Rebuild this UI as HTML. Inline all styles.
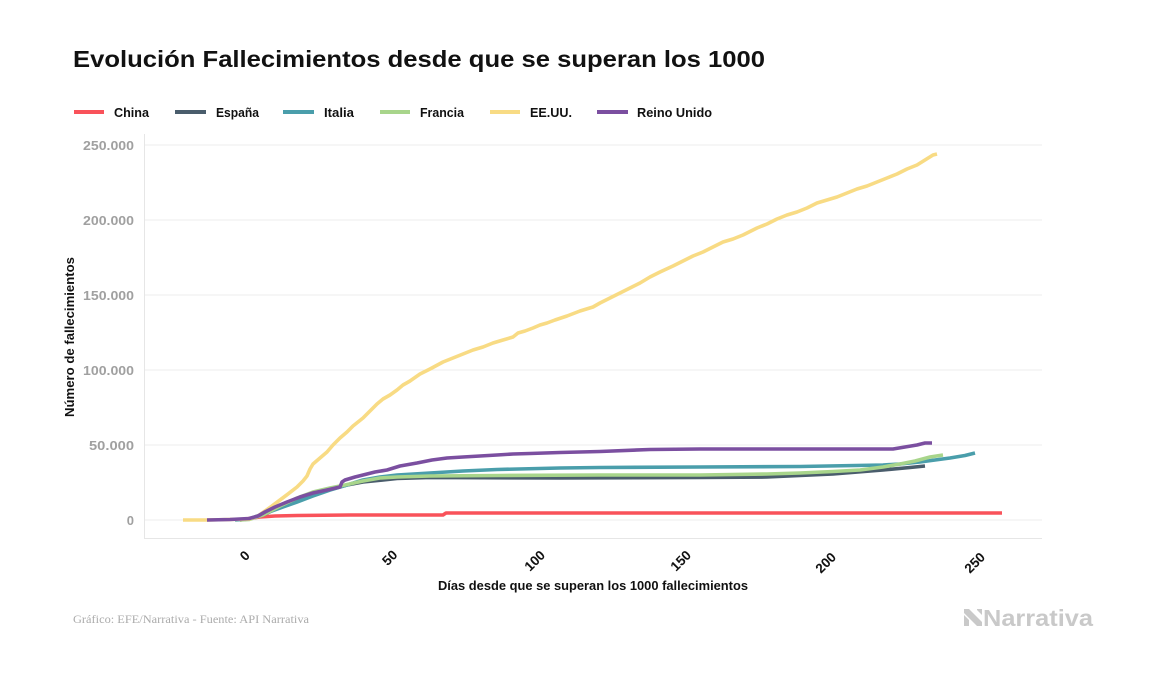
<!DOCTYPE html>
<html>
<head>
<meta charset="utf-8">
<style>
  html, body { margin: 0; padding: 0; background: #ffffff; }
  svg { display: block; }
  text { font-family: "Liberation Sans", "DejaVu Sans", sans-serif; }
</style>
</head>
<body>
<svg width="1157" height="674" viewBox="0 0 1157 674" xmlns="http://www.w3.org/2000/svg">
  <rect x="0" y="0" width="1157" height="674" fill="#ffffff"/>

  <!-- Title -->
  <text x="73" y="67" font-size="23" font-weight="bold" fill="#111111" textLength="692" lengthAdjust="spacingAndGlyphs">Evolución Fallecimientos desde que se superan los 1000</text>

  <!-- Legend -->
  <g stroke-width="4" stroke-linecap="butt">
    <line x1="74" y1="112" x2="104" y2="112" stroke="#f9525a"/>
    <line x1="175" y1="112" x2="206" y2="112" stroke="#4a5d6c"/>
    <line x1="283" y1="112" x2="314" y2="112" stroke="#4a9eab"/>
    <line x1="380" y1="112" x2="410" y2="112" stroke="#a8d58b"/>
    <line x1="490" y1="112" x2="520" y2="112" stroke="#f8db84"/>
    <line x1="597" y1="112" x2="628" y2="112" stroke="#7b4fa0"/>
  </g>
  <g font-size="13" font-weight="bold" fill="#111111">
    <text x="114" y="117" textLength="35" lengthAdjust="spacingAndGlyphs">China</text>
    <text x="216" y="117" textLength="43" lengthAdjust="spacingAndGlyphs">España</text>
    <text x="324" y="117" textLength="30" lengthAdjust="spacingAndGlyphs">Italia</text>
    <text x="420" y="117" textLength="44" lengthAdjust="spacingAndGlyphs">Francia</text>
    <text x="530" y="117" textLength="42" lengthAdjust="spacingAndGlyphs">EE.UU.</text>
    <text x="637" y="117" textLength="75" lengthAdjust="spacingAndGlyphs">Reino Unido</text>
  </g>

  <!-- Gridlines -->
  <g stroke="#ececec" stroke-width="1">
    <line x1="144" y1="145" x2="1042" y2="145"/>
    <line x1="144" y1="220" x2="1042" y2="220"/>
    <line x1="144" y1="295" x2="1042" y2="295"/>
    <line x1="144" y1="370" x2="1042" y2="370"/>
    <line x1="144" y1="445" x2="1042" y2="445"/>
    <line x1="144" y1="520" x2="1042" y2="520"/>
  </g>
  <!-- Panel borders -->
  <g stroke="#e6e6e6" stroke-width="1">
    <line x1="144.5" y1="134" x2="144.5" y2="539"/>
    <line x1="144" y1="538.5" x2="1042" y2="538.5"/>
  </g>

  <!-- Y tick labels -->
  <g font-size="13" font-weight="bold" fill="#a0a0a0" text-anchor="end">
    <text x="134" y="150" textLength="51" lengthAdjust="spacingAndGlyphs">250.000</text>
    <text x="134" y="225" textLength="51" lengthAdjust="spacingAndGlyphs">200.000</text>
    <text x="134" y="300" textLength="51" lengthAdjust="spacingAndGlyphs">150.000</text>
    <text x="134" y="375" textLength="51" lengthAdjust="spacingAndGlyphs">100.000</text>
    <text x="134" y="450" textLength="45" lengthAdjust="spacingAndGlyphs">50.000</text>
    <text x="134" y="525">0</text>
  </g>

  <!-- X tick labels (rotated) -->
  <g font-size="13.5" font-weight="bold" fill="#111111" text-anchor="middle">
    <text transform="translate(248,559) rotate(-45)">0</text>
    <text transform="translate(393,561) rotate(-45)">50</text>
    <text transform="translate(538,564) rotate(-45)">100</text>
    <text transform="translate(684,564) rotate(-45)">150</text>
    <text transform="translate(829,566) rotate(-45)">200</text>
    <text transform="translate(978,566) rotate(-45)">250</text>
  </g>

  <!-- Axis titles -->
  <text x="593" y="590" font-size="13" font-weight="bold" fill="#111111" text-anchor="middle" textLength="310" lengthAdjust="spacingAndGlyphs">Días desde que se superan los 1000 fallecimientos</text>
  <text transform="translate(74,337) rotate(-90)" font-size="13" font-weight="bold" fill="#111111" text-anchor="middle" textLength="160" lengthAdjust="spacingAndGlyphs">Número de fallecimientos</text>

  <!-- Series -->
  <g fill="none" stroke-width="3.6" stroke-linejoin="round" stroke-linecap="butt">
    <!-- China -->
    <path stroke="#f9525a" d="M240,520 L249,518.5 L260,517 L275,516 L297,515.5 L350,515 L443,515 L446,513 L1002,513"/>
    <!-- España -->
    <path stroke="#4a5d6c" d="M240,520 L249,519 L263,515 L280,507 L297,500 L313,494 L330,489 L347,485 L363,482 L397,478.5 L430,477.5 L560,478 L700,477.5 L767,477 L833,474 L883,470 L910,467.5 L925,466"/>
    <!-- Italia -->
    <path stroke="#4a9eab" d="M235,520 L249,519 L263,514 L280,508 L297,502 L313,496 L330,490 L347,485 L363,480 L380,477 L397,475 L430,473 L463,471 L497,469.5 L560,468 L600,467.5 L700,467 L800,466.5 L883,465 L900,464 L920,462 L935,460 L950,458 L965,455.5 L975,453"/>
    <!-- Francia -->
    <path stroke="#a8d58b" d="M240,520 L249,519.5 L263,515 L280,506 L297,498 L313,492 L330,488 L345,485 L363,481 L380,478 L397,477 L430,476 L500,475.5 L600,475 L700,475 L767,474 L800,473 L833,471.5 L860,470 L883,467 L900,464 L915,461 L930,457 L943,455"/>
    <!-- EE.UU. -->
    <path stroke="#f8db84" d="M183,520 L207,520 L230,519.5 L249,519 L258,516 L265,511 L272,506 L280,500 L288,494 L297,487 L303,481 L307,476 L310,469 L313,464 L320,458 L327,452 L333,445 L340,438 L347,432 L353,426 L358,422 L363,418 L370,411 L377,404 L383,399 L390,395 L397,390 L403,385 L410,381 L420,374 L430,369 L443,362 L453,358 L463,354 L473,350 L483,347 L493,343 L503,340 L513,337 L518,333 L525,331 L533,328 L540,325 L547,323 L555,320 L567,316 L580,311 L593,307 L600,303 L610,298 L620,293 L630,288 L640,283 L650,277 L660,272 L673,266 L683,261 L693,256 L703,252 L713,247 L723,242 L733,239 L743,235 L757,228 L767,224 L777,219 L787,215 L797,212 L807,208 L817,203 L827,200 L837,197 L847,193 L857,189 L867,186 L877,182 L887,178 L897,174 L907,169 L917,165 L925,160 L933,155 L937,154"/>
    <!-- Reino Unido -->
    <path stroke="#7b4fa0" d="M207,520 L230,519.5 L249,518.5 L258,516 L265,512 L275,507 L287,502 L300,497 L313,493 L327,490 L340,487 L342,482 L345,480 L355,477 L363,475 L375,472 L387,470 L400,466 L417,463 L432,460 L447,458 L463,457 L480,456 L497,455 L513,454 L530,453.5 L560,452.5 L600,451.5 L650,449.5 L700,449 L893,449 L905,447 L917,445 L925,443 L932,443"/>
  </g>

  <!-- Footer -->
  <text x="73" y="623" font-size="12" fill="#ababab" textLength="236" lengthAdjust="spacingAndGlyphs" style="font-family:'Liberation Serif', serif;">Gráfico: EFE/Narrativa - Fuente: API Narrativa</text>

  <!-- Narrativa logo -->
  <g fill="#c9c9c9">
    <polygon points="964,609 969,609 982,622 982,626 977,626 964,613"/>
    <polygon points="964,615 969,620 969,626 964,626"/>
    <polygon points="977,609 982,609 982,615 977,610"/>
  </g>
  <text x="983" y="626" font-size="23" font-weight="bold" fill="#c9c9c9" textLength="110" lengthAdjust="spacingAndGlyphs">Narrativa</text>
</svg>
</body>
</html>
